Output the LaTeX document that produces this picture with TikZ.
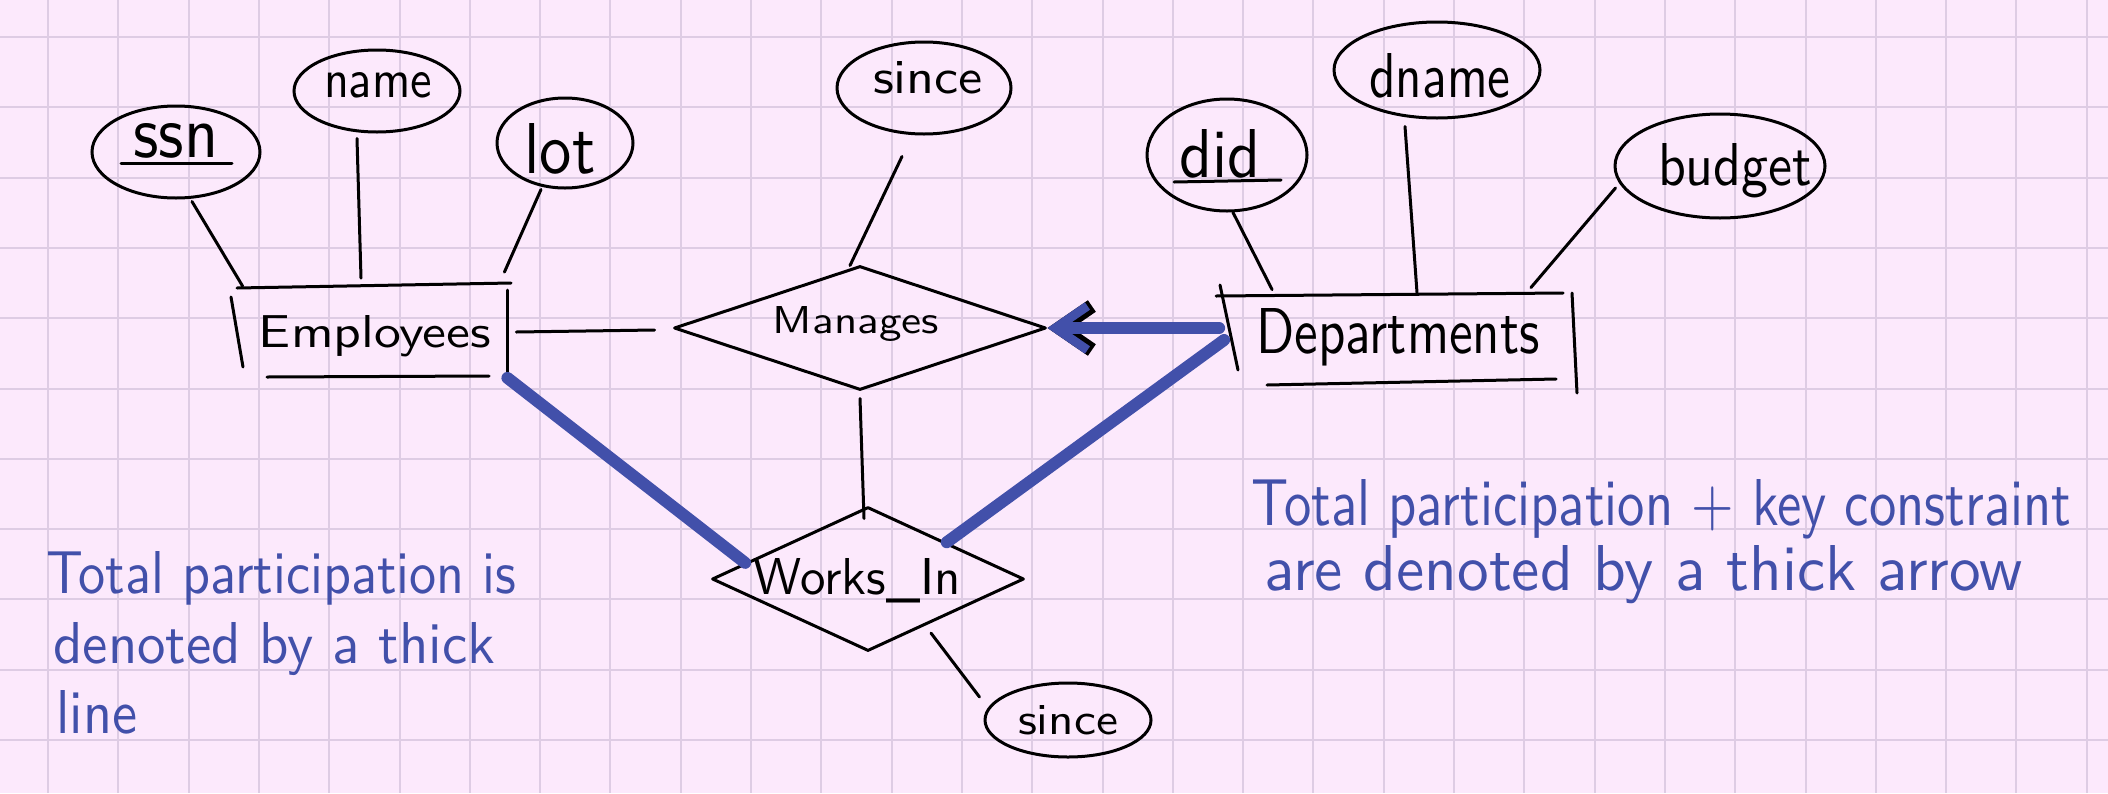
\documentclass[tikz,border=0pt]{standalone}
\usepackage{graphicx}
\usetikzlibrary{shapes.geometric,arrows.meta,calc}
\newlength\upx \setlength\upx{0.5pt}
\definecolor{bgpink}{RGB}{252,233,252}
\definecolor{gridc}{RGB}{222,204,228}
\definecolor{ink}{RGB}{66,80,170}
\newcommand\hw[3]{\resizebox{#1\upx}{#2\upx}{#3}}
\tikzset{
  pen/.style={line width=1.5pt, black, line cap=round},
  attr/.style={ellipse, draw, line width=1.5pt, inner sep=0pt},
  lbl/.style={inner sep=0pt, font=\sffamily, anchor=base},
  ent/.style={rectangle, inner sep=0pt, font=\sffamily},
  rel/.style={diamond, draw, line width=1.5pt, inner sep=0pt, line join=round},
  thickblue/.style={ink, line width=6pt, line cap=round},
  note/.style={ink, anchor=base west, inner sep=0pt, font=\sffamily},
  gridline/.style={gridc, line width=1pt},
}
\begin{document}
\begin{tikzpicture}[x=0.5pt,y=-0.5pt]
\useasboundingbox (0,0) rectangle (2108,793);
\fill[bgpink] (0,0) rectangle (2108,793);
\foreach \i in {0,...,29} {\draw[gridline] ({48+70.3*\i},0) -- ({48+70.3*\i},793);}
\foreach \j in {0,...,10} {\draw[gridline] (0,{37+70.3*\j}) -- (2108,{37+70.3*\j});}

% ---------- Employees side
\node[ent, minimum width=272\upx, minimum height=93\upx] (emp) at (373,331) {};
\node[lbl] (empT) at (375,347) {\hw{232}{32}{Employees}};
\draw[pen] (237,288) -- (511,283);
\draw[pen] (231,297) -- (243,367);
\draw[pen] (507,290) -- (507,378);
\draw[pen] (267,377) -- (489,376);

\node[attr, minimum width=168\upx, minimum height=92\upx] (ssn) at (176,152) {};
\node[lbl] (ssnT) at (176,157) {\hw{85}{34}{ssn}};
\draw[pen] (121,163) -- (232,163);
\node[attr, minimum width=166\upx, minimum height=82\upx] (name) at (377,91) {};
\node[lbl] (nameT) at (378,97) {\hw{108}{25}{name}};
\node[attr, minimum width=136\upx, minimum height=90\upx] (lot) at (565,143) {};
\node[lbl] (lotT) at (560,173) {\hw{71}{50}{lot}};

\draw[pen] ($(ssn.south)+(16,2)$) -- ($(emp.north west)+(6,2)$);
\draw[pen] ($(name.south)+(-20,5)$) -- ($(emp.north)+(-12,-6)$);
\draw[pen] ($(lot.south)+(-24,0)$) -- ($(emp.north east)+(-5,-12)$);

% ---------- Manages
\node[rel, minimum width=372\upx, minimum height=124\upx] (mang) at (860,328) {};
\node[lbl] (mangT) at (856,333) {\hw{166}{27}{Manages}};
\node[attr, minimum width=174\upx, minimum height=92\upx] (since) at (924,88) {};
\node[lbl] (sinceT) at (928,93) {\hw{110}{32}{since}};
\draw[pen] ($(since.south)+(-22,21)$) -- ($(mang.north)+(-10,1)$);
\draw[pen] ($(emp.east)+(7,1)$) -- ($(mang.west)+(-18,2)$);

% ---------- Departments side
\node[ent, minimum width=355\upx, minimum height=88\upx] (dept) at (1397,337) {};
\node[lbl] (deptT) at (1398,353) {\hw{283}{45}{Departments}};
\draw[pen] (1216,296) -- (1563,293);
\draw[pen] (1220,285) -- (1238,370);
\draw[pen] (1572,293) -- (1577,393);
\draw[pen] (1267,385) -- (1556,379);

\node[attr, minimum width=160\upx, minimum height=112\upx] (did) at (1227,155) {};
\node[lbl] (didT) at (1220,177) {\hw{81}{48}{did}};
\draw[pen] (1174,182) -- (1281,180);
\node[attr, minimum width=206\upx, minimum height=96\upx] (dname) at (1437,70) {};
\node[lbl] (dnameT) at (1440,97) {\hw{141}{44}{dname}};
\node[attr, minimum width=210\upx, minimum height=104\upx] (budget) at (1720,166) {};
\node[lbl] (budgetT) at (1735,185) {\hw{154}{42}{budget}};

\draw[pen] ($(did.south)+(6,0)$) -- ($(dept.north west)+(53,-3)$);
\draw[pen] ($(dname.south)+(-32,7)$) -- ($(dept.north)+(20,0)$);
\draw[pen] ($(budget.west)+(2,22)$) -- ($(dept.north east)+(-44,-5)$);

% ---------- Works_In
\node[rel, minimum width=312\upx, minimum height=144\upx] (works) at (868,579) {};
\node[lbl] (worksT) at (857,594) {\hw{207}{36}{Works\_In}};
\node[attr, minimum width=166\upx, minimum height=74\upx] (since2) at (1068,720) {};
\node[lbl] (since2T) at (1068,734) {\hw{100}{29}{since}};
\draw[pen] ($(mang.south)+(0,7)$) -- ($(works.north)+(-4,13)$);
\draw[pen] ($(works.south)!0.4!(works.east)+(0,10)$) -- ($(since2.west)+(-4,-23)$);

% ---------- thick (total participation) lines
\draw[thickblue] ($(emp.south east)+(-2,0)$) -- ($(works.west)!0.22!(works.north)$);
\draw[thickblue] ($(dept.west)+(5,3)$) -- ($(works.north)!0.5!(works.east)$);

% ---------- thick arrow
\draw[black, line width=1pt, -{Straight Barb[length=16pt, width=22pt, line width=7pt]}] ($(mang.east)+(40,0)$) -- (mang.east);
\draw[ink, line width=6pt, line cap=round, -{Straight Barb[length=16pt, width=22pt, line width=4.5pt]}] ($(dept.west)+(0,-9)$) -- (mang.east);

% ---------- notes
\node[note] (n1) at (46,593) {\hw{470}{42}{Total participation is}};
\node[note] (n2) at (53,663) {\hw{442}{41}{denoted by a thick}};
\node[note] (n3) at (56,733) {\hw{81}{43}{line}};
\node[note] (n4) at (1251,525) {\hw{820}{46}{Total participation + key constraint}};
\node[note] (n5) at (1264,590) {\hw{758}{45}{are denoted by a thick arrow}};
\end{tikzpicture}
\end{document}
